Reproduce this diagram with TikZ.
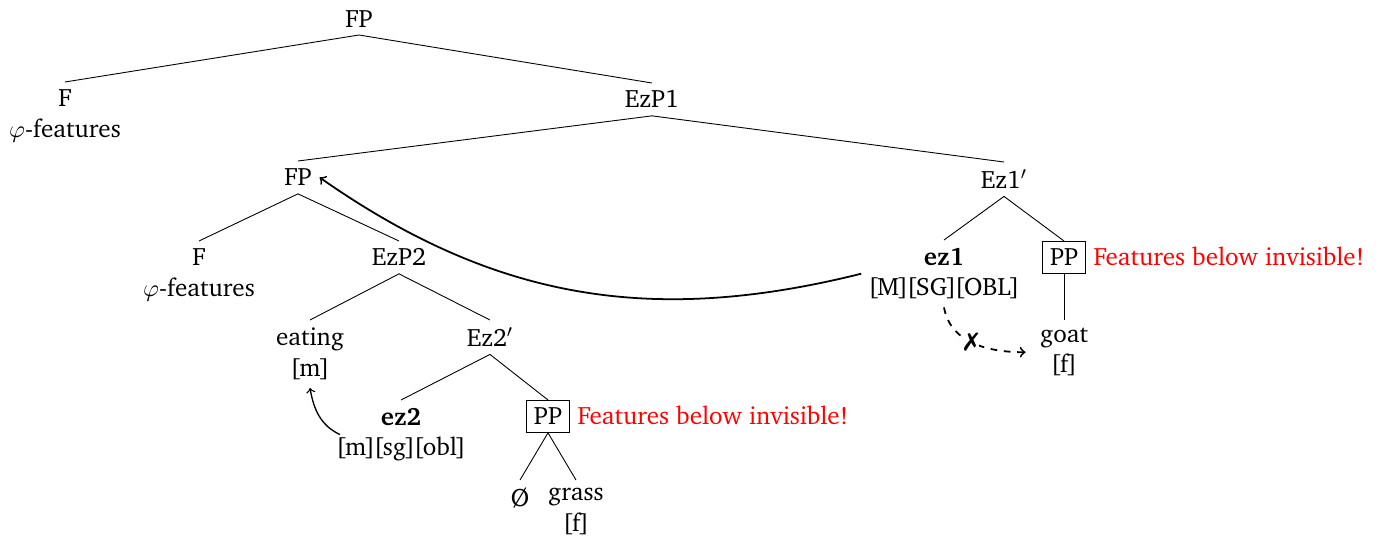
\documentclass[tikz,border=0pt]{standalone}
\usepackage[T1]{fontenc}
\usepackage{charter}
\usepackage{amsmath}
\usepackage{pifont}
\usepackage{tikz}

\newcommand{\feat}[1]{\kern-.3pt[\kern-.7pt#1\kern-.7pt]\kern-.3pt}

\begin{document}
\begin{tikzpicture}[x=0.45pt, y=0.45pt, font=\fontsize{11.3}{13.9}\selectfont]
        \tikzstyle Tree Node=[anchor=north, align=center]
        \tikzstyle Box Node=[Tree Node, draw, thin]
        \tikzstyle Tree Line=[thin]
        \tikzstyle Move Arrow=[semithick, ->]
        \tikzstyle Note=[anchor=base west, text=red]

        \useasboundingbox (0, 0) rectangle (1383, -535);

        \node[Tree Node, anchor=south] (fp0) at (359, -35) {FP};
        \node[Tree Node] (f0) at (65, -82) {F\\$\varphi$-features};
        \node[Tree Node] (ezp1) at (652, -83) {EzP1};
        \node[Tree Node] (fp1) at (298, -161) {FP};
        \node[Tree Node] (ez1bar) at (1004, -162) {Ez1$'$};
        \node[Tree Node] (f1) at (199, -241) {F\\$\varphi$-features};
        \node[Tree Node] (ezp2) at (399, -241) {EzP2};
        \node[Tree Node] (eating) at (310, -320) {eating\\\feat{m}};
        \node[Tree Node] (ez2bar) at (490, -320) {Ez2$'$};
        \node[Tree Node] (ez2) at (401, -400) {\textbf{ez2}\\\feat{m}\feat{sg}\feat{obl}};
        \node[Box Node] (pp2) at (548, -400) {PP};
        \node[Tree Node] (empty) at (520, -480) {\O};
        \node[Tree Node] (grass) at (576, -480) {grass\\\feat{f}};
        \node[Tree Node] (ez1) at (944, -240) {\textbf{ez1}\\\feat{M}\feat{SG}\feat{OBL}};
        \node[Box Node] (pp1) at (1064, -241) {PP};
        \node[Tree Node] (goat) at (1064, -320) {goat\\\feat{f}};

        \node[Note] (note2) at (pp2.base east) {Features below invisible!};
        \node[Note] (note1) at (pp1.base east) {Features below invisible!};

        % branches
        \foreach \a/\b in {fp0/f0, fp0/ezp1, ezp1/fp1, ezp1/ez1bar, fp1/f1, fp1/ezp2,
                ezp2/eating, ezp2/ez2bar, ez2bar/ez2, ez2bar/pp2, pp2/empty, pp2/grass,
                ez1bar/ez1, ez1bar/pp1, pp1/goat}
            \draw[Tree Line] (\a.south) -- (\b.north);

        % movement and agreement
        \draw[Move Arrow, thick] (ez1.west) to[out=194, in=-35] (fp1.east);
        \draw[Move Arrow] ([xshift=5pt]ez2.west) to[out=155, in=-80] (eating.south);
        \draw[Move Arrow, thick, dashed, shorten >=3pt] (ez1.south) to[out=-80, in=180]
            node[pos=0.45, inner sep=0pt, fill=white] (block) {\ding{55}} (goat.west);
    \end{tikzpicture}
\end{document}
